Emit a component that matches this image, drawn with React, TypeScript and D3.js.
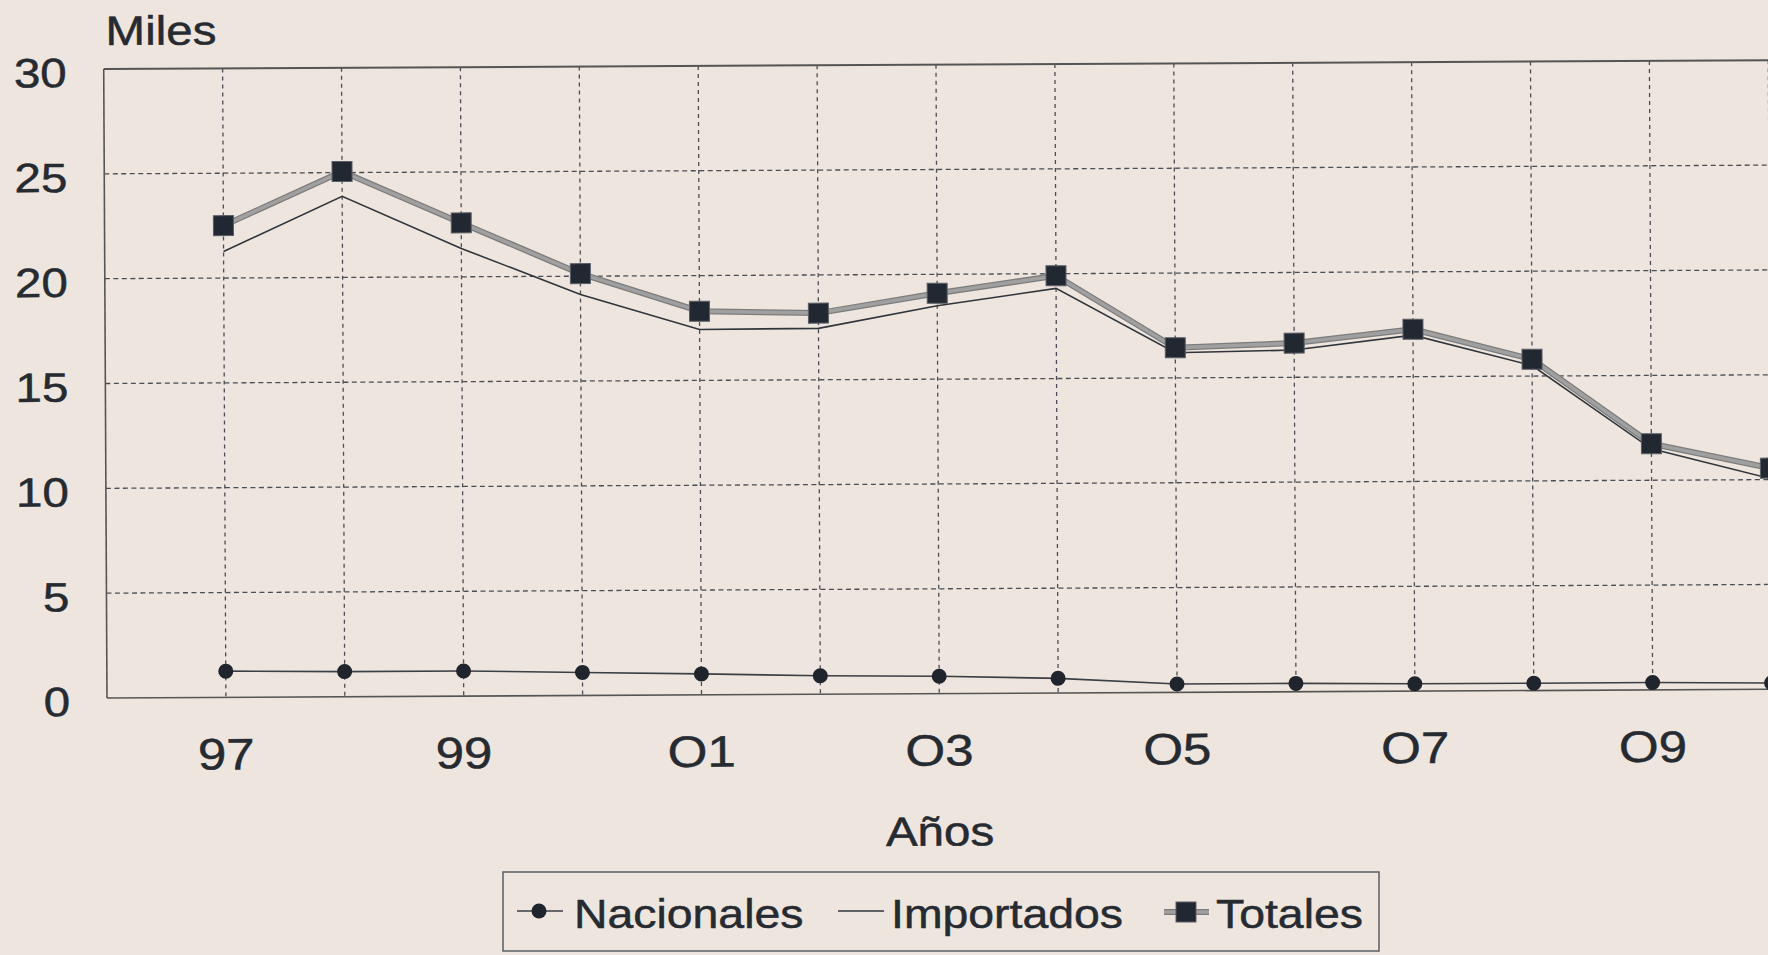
import React from 'react';
import * as d3 from 'd3';

// values (miles)
const years = [1997, 1998, 1999, 2000, 2001, 2002, 2003, 2004, 2005, 2006, 2007, 2008, 2009, 2010];
const totales = [22.5, 25.05, 22.57, 20.12, 18.3, 18.18, 19.1, 19.9, 16.44, 16.63, 17.26, 15.8, 11.74, 10.55];
const importados = [21.27, 23.87, 21.35, 19.13, 17.43, 17.45, 18.5, 19.3, 16.2, 16.3, 16.98, 15.5, 11.5, 10.05];
const nacionales = [1.25, 1.2, 1.2, 1.1, 1.0, 0.88, 0.83, 0.7, 0.4, 0.4, 0.35, 0.35, 0.35, 0.3];

const yTicks = [0, 5, 10, 15, 20, 25, 30];
const xTickYears = [1997, 1999, 2001, 2003, 2005, 2007, 2009];
const xTickLabels = ['97', '99', 'O1', 'O3', 'O5', 'O7', 'O9'];
const legendLabels = ['Nacionales', 'Importados', 'Totales'];

const W = 1768;
const H = 955;
const FONT = '"Liberation Sans", Arial, Helvetica, sans-serif';
const INK = '#262a31';
const PAPER = '#eee6de';
const STRETCH = 1.16; // the print face runs wider than Arial

const Txt: React.FC<{ x: number; y: number; size: number; anchor?: string; children: React.ReactNode }> = ({ x, y, size, anchor = 'start', children }) => (
  <text
    transform={`translate(${x},${y}) scale(${STRETCH},1)`}
    fontSize={size}
    textAnchor={anchor}
    fill={INK}
    stroke={INK}
    strokeWidth={0.5}
    fontFamily={FONT}
  >
    {children}
  </text>
);

const App: React.FC = () => {
  const left = 107;
  const top = 69;
  const bottom = 698;
  const step = 118.9;

  const x = d3.scaleLinear().domain([1996, 2011]).range([left, left + 15 * step]);
  const y = d3.scaleLinear().domain([0, 30]).range([bottom, top]);

  const line = (vals: number[]) =>
    d3.line<number>()
      .x((_, i) => x(years[i]))
      .y(d => y(d))(vals) || '';

  const gridYears = d3.range(1997, 2012);

  return (
    <svg width={W} height={H} style={{ position: 'absolute', left: 0, top: 0, display: 'block', background: PAPER }}>
      <rect width={W} height={H} fill={PAPER} />
      <g transform={`rotate(-0.3, ${left}, ${bottom})`}>
        {/* horizontal grid */}
        {yTicks.filter(t => t > 0 && t < 30).map(t => (
          <line key={'h' + t} x1={left} x2={W + 40} y1={y(t)} y2={y(t)}
            stroke="#4a4d55" strokeWidth={1.3} strokeDasharray="5,3.5" />
        ))}
        {/* vertical grid */}
        {gridYears.map(yr => (
          <line key={'v' + yr} x1={x(yr)} x2={x(yr)} y1={top} y2={bottom}
            stroke="#4a4d55" strokeWidth={1.3} strokeDasharray="4,4" />
        ))}
        {/* frame */}
        <line x1={left} x2={W + 40} y1={top} y2={top} stroke="#555" strokeWidth={2} />
        <line x1={left} x2={W + 40} y1={bottom} y2={bottom} stroke="#555" strokeWidth={1.6} />
        <line x1={left} x2={left} y1={top} y2={bottom} stroke="#555" strokeWidth={1.6} />

        {/* y axis labels */}
        {yTicks.map(t => (
          <Txt key={'yl' + t} x={70} y={y(t) + 18} size={41} anchor="end">{t}</Txt>
        ))}
        <Txt x={109} y={45} size={41}>Miles</Txt>

        {/* x axis labels */}
        {xTickYears.map((yr, i) => (
          <Txt key={'xl' + yr} x={x(yr)} y={770} size={44} anchor="middle">{xTickLabels[i]}</Txt>
        ))}
        <Txt x={x(2003)} y={850} size={41} anchor="middle">Años</Txt>

        {/* Importados */}
        <path d={line(importados)} fill="none" stroke="#30343b" strokeWidth={1.6} />

        {/* Totales */}
        <path d={line(totales)} fill="none" stroke="#7c7c7c" strokeWidth={6} strokeLinejoin="round" />
        <path d={line(totales)} fill="none" stroke="#a0a0a0" strokeWidth={3.5} strokeLinejoin="round" />
        {totales.map((v, i) => (
          <rect key={'t' + i} x={x(years[i]) - 10} y={y(v) - 10} width={20} height={20}
            fill="#222831" stroke="#5a5e66" strokeWidth={1} />
        ))}

        {/* Nacionales */}
        <path d={line(nacionales)} fill="none" stroke="#3a3e45" strokeWidth={1.6} />
        {nacionales.map((v, i) => (
          <circle key={'n' + i} cx={x(years[i])} cy={y(v)} r={7.5} fill="#1f242d" />
        ))}
      </g>

      {/* legend */}
      <g>
        <rect x={503} y={872} width={876} height={79} fill="none" stroke="#5a5d63" strokeWidth={1.5} />
        <line x1={517} x2={563} y1={911} y2={911} stroke="#3a3e45" strokeWidth={1.6} />
        <circle cx={539} cy={911} r={7.5} fill="#1f242d" />
        <Txt x={574} y={928} size={40}>{legendLabels[0]}</Txt>

        <line x1={838} x2={884} y1={911} y2={911} stroke="#30343b" strokeWidth={1.6} />
        <Txt x={891} y={928} size={40}>{legendLabels[1]}</Txt>

        <line x1={1164} x2={1209} y1={912} y2={912} stroke="#7c7c7c" strokeWidth={6} />
        <line x1={1164} x2={1209} y1={912} y2={912} stroke="#a0a0a0" strokeWidth={3.5} />
        <rect x={1176} y={902} width={20} height={20} fill="#222831" stroke="#5a5e66" strokeWidth={1} />
        <Txt x={1216} y={928} size={40}>{legendLabels[2]}</Txt>
      </g>
    </svg>
  );
};

export default App;
